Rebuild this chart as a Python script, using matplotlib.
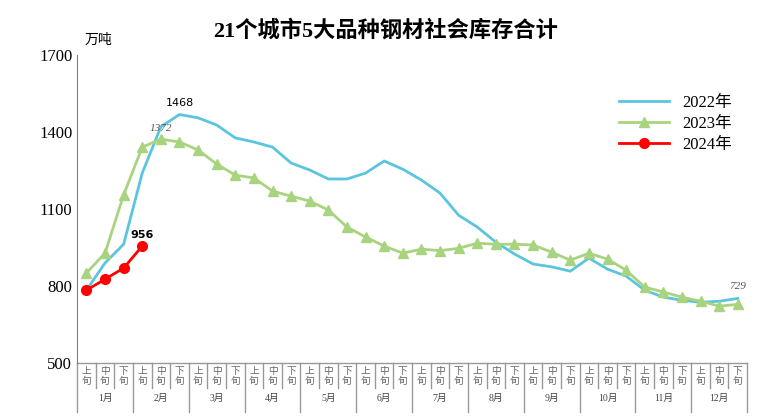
import numpy as np
import matplotlib.pyplot as plt

plt.rcParams.update({
    "font.family": ["Liberation Serif", "Noto Sans CJK SC"],
    "font.size": 11,
})

months = [f"{m}月" for m in range(1, 13)]
periods = ["上\n旬", "中\n旬", "下\n旬"]

y2022 = [784, 890, 963, 1240, 1420, 1468, 1455, 1427, 1377, 1361, 1341, 1279,
         1252, 1217, 1217, 1240, 1287, 1255, 1213, 1162, 1076, 1030, 971, 925,
         886, 875, 858, 909, 866, 839, 784, 757, 745, 737, 741, 752]
y2023 = [851, 928, 1155, 1341, 1372, 1361, 1330, 1275, 1232, 1221, 1170, 1150,
         1131, 1096, 1030, 991, 956, 928, 944, 938, 947, 967, 963, 963,
         960, 932, 901, 928, 905, 862, 796, 777, 757, 741, 722, 729]
y2024 = [784, 827, 870, 956]

fig = plt.figure(figsize=(7.71, 4.16), dpi=100)
ax = fig.add_axes([0.1, 0.127, 0.869, 0.741])

x = np.arange(36)
ax.plot(x, y2022, color="#5BC5DE", lw=2, label="2022年")
ax.plot(x, y2023, color="#A9D47F", lw=2, marker="^", ms=7, label="2023年")
ax.plot(x[:4], y2024, color="#FF0000", lw=2, marker="o", ms=7, label="2024年")

ax.text(5, 1468 + 25, "1468", ha="center", va="bottom", fontsize=8,
        family="DejaVu Sans")
ax.text(4, 1372 + 25, "1372", ha="center", va="bottom", fontsize=8,
        style="italic", color="#555555")
ax.text(3, 956 + 25, "956", ha="center", va="bottom", fontsize=8,
        family="DejaVu Sans", weight="bold")
ax.text(35, 752 + 30, "729", ha="center", va="bottom", fontsize=8,
        style="italic", color="#555555")

ax.set_xlim(-0.5, 35.5)
ax.set_ylim(500, 1700)
ax.set_yticks([500, 800, 1100, 1400, 1700])
ax.tick_params(axis="y", length=0, labelsize=12)
ax.set_xticks([])
for s in ["top", "right", "bottom"]:
    ax.spines[s].set_visible(False)
ax.spines["left"].set_color("#808080")

# two-level category axis
tr = ax.get_xaxis_transform()
line_kw = dict(color="#999999", lw=1, transform=tr, clip_on=False)
ax.plot([-0.5, 35.5], [0, 0], **line_kw)
for i in range(37):
    bottom = -0.16 if i % 3 == 0 else -0.08
    ax.plot([i - 0.5, i - 0.5], [0, bottom], **line_kw)
for i in range(36):
    ax.text(i, -0.01, periods[i % 3], transform=tr, ha="center", va="top",
            fontsize=7, color="#666666", linespacing=1.0,
            family="Noto Sans CJK SC")
for m, name in enumerate(months):
    ax.text(m * 3 + 1, -0.115, name, transform=tr, ha="center", va="center",
            fontsize=7, color="#444444")

leg = ax.legend(loc="upper right", bbox_to_anchor=(1.0, 0.92), frameon=False,
                fontsize=12, handlelength=3, labelspacing=0.3)

fig.text(0.5, 0.925, "21个城市5大品种钢材社会库存合计", ha="center",
         va="center", fontsize=16, weight="bold")
fig.text(0.11, 0.905, "万吨", ha="left", va="center", fontsize=10,
         family="Noto Sans CJK SC")

fig.savefig("out.png", dpi=100)
